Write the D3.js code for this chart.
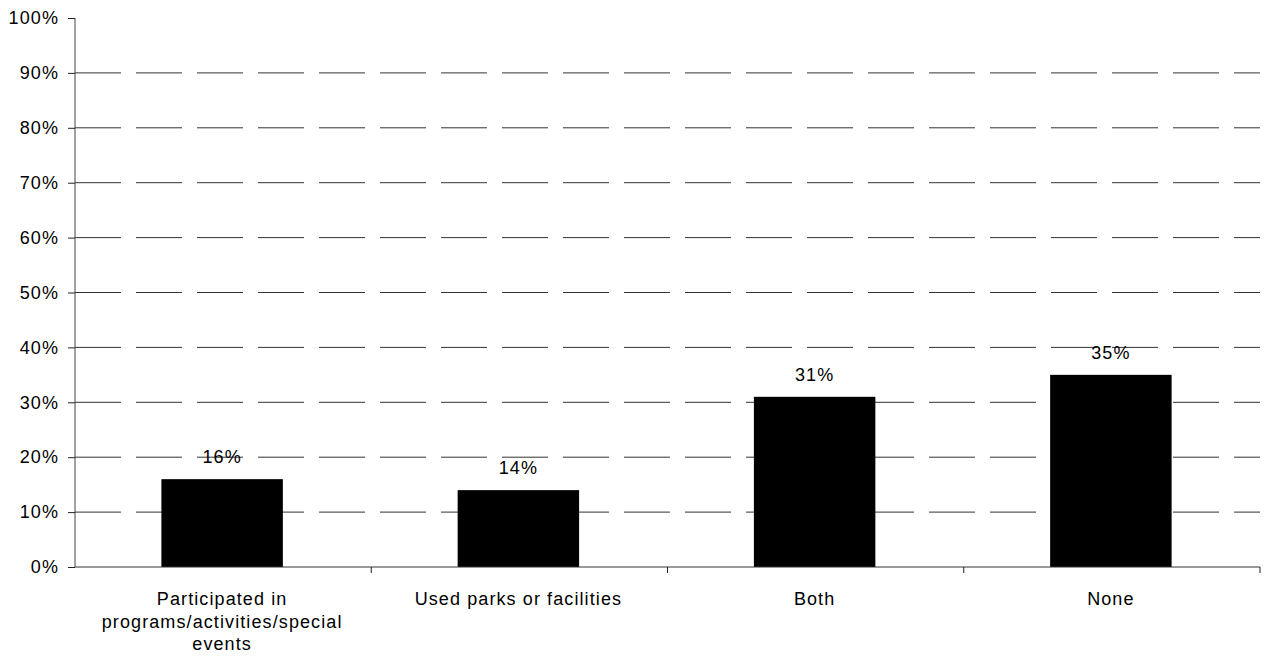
<!DOCTYPE html>
<html>
<head>
<meta charset="utf-8">
<script src="https://cdn.jsdelivr.net/npm/d3@7"></script>
<style>
  html, body { margin: 0; padding: 0; background: #fff; }
  svg text { font-family: "Liberation Sans", Arial, sans-serif; fill: #000; letter-spacing: 1.1px; }
</style>
</head>
<body>
<svg id="chart" width="1270" height="664"></svg>
<script>
// Survey responses: share of households by type of use
const categories = [
  ["Participated in", "programs/activities/special", "events"],
  ["Used parks or facilities"],
  ["Both"],
  ["None"]
];
const values = [0.16, 0.14, 0.31, 0.35];
const yTicks = [0, 0.1, 0.2, 0.3, 0.4, 0.5, 0.6, 0.7, 0.8, 0.9, 1.0];

const svg = d3.select("#chart");
const plotLeft = 75, plotRight = 1260, plotTop = 18, plotBottom = 567;

const x = d3.scaleBand()
  .domain(d3.range(categories.length))
  .range([plotLeft, plotRight])
  .padding(0);

const y = d3.scaleLinear().domain([0, 1]).range([plotBottom, plotTop]);

// dashed horizontal gridlines
svg.append("g")
  .selectAll("line")
  .data(yTicks.filter(t => t > 0 && t < 1))
  .join("line")
  .attr("x1", plotLeft).attr("x2", plotRight)
  .attr("y1", d => y(d)).attr("y2", d => y(d))
  .attr("stroke", "#333")
  .attr("stroke-width", 1)
  .attr("stroke-dasharray", "46,15");

// bars
const barW = x.bandwidth() * 0.41;
svg.append("g")
  .selectAll("rect")
  .data(values)
  .join("rect")
  .attr("x", (d, i) => x(i) + x.bandwidth() / 2 - barW / 2 - 1)
  .attr("width", barW)
  .attr("y", d => y(d))
  .attr("height", d => plotBottom - y(d))
  .attr("fill", "#000");

// value labels
svg.append("g")
  .selectAll("text")
  .data(values)
  .join("text")
  .attr("x", (d, i) => x(i) + x.bandwidth() / 2 - 1)
  .attr("y", d => y(d) - 16)
  .attr("text-anchor", "middle")
  .attr("font-size", 18)
  .text(d => d3.format(".0%")(d));

// y axis
const yAxis = d3.axisLeft(y)
  .tickValues(yTicks)
  .tickFormat(d3.format(".0%"))
  .tickSize(7)
  .tickPadding(9);
const gy = svg.append("g")
  .attr("transform", `translate(${plotLeft},0)`)
  .call(yAxis);
gy.select(".domain").attr("stroke", "#444").attr("d", `M0,${plotTop}V${plotBottom}`);
gy.selectAll(".tick line").attr("stroke", "#222");
gy.selectAll(".tick text")
  .attr("font-size", 18)
  .attr("font-family", "Liberation Sans, Arial, sans-serif")
  .attr("fill", "#000");

// x axis baseline and category separators
svg.append("line")
  .attr("x1", plotLeft).attr("x2", plotRight)
  .attr("y1", plotBottom).attr("y2", plotBottom)
  .attr("stroke", "#333");
svg.append("g")
  .selectAll("line")
  .data(d3.range(1, categories.length + 1))
  .join("line")
  .attr("x1", i => i < categories.length ? x(i) : plotRight)
  .attr("x2", i => i < categories.length ? x(i) : plotRight)
  .attr("y1", plotBottom).attr("y2", plotBottom + 6)
  .attr("stroke", "#222");

// category labels (wrapped)
const lab = svg.append("g")
  .selectAll("text")
  .data(categories)
  .join("text")
  .attr("x", (d, i) => x(i) + x.bandwidth() / 2 - 1)
  .attr("y", 605)
  .attr("text-anchor", "middle")
  .attr("font-size", 18);
lab.selectAll("tspan")
  .data(d => d)
  .join("tspan")
  .attr("x", function () { return d3.select(this.parentNode).attr("x"); })
  .attr("dy", (d, i) => i === 0 ? 0 : 22.5)
  .text(d => d);
</script>
</body>
</html>
